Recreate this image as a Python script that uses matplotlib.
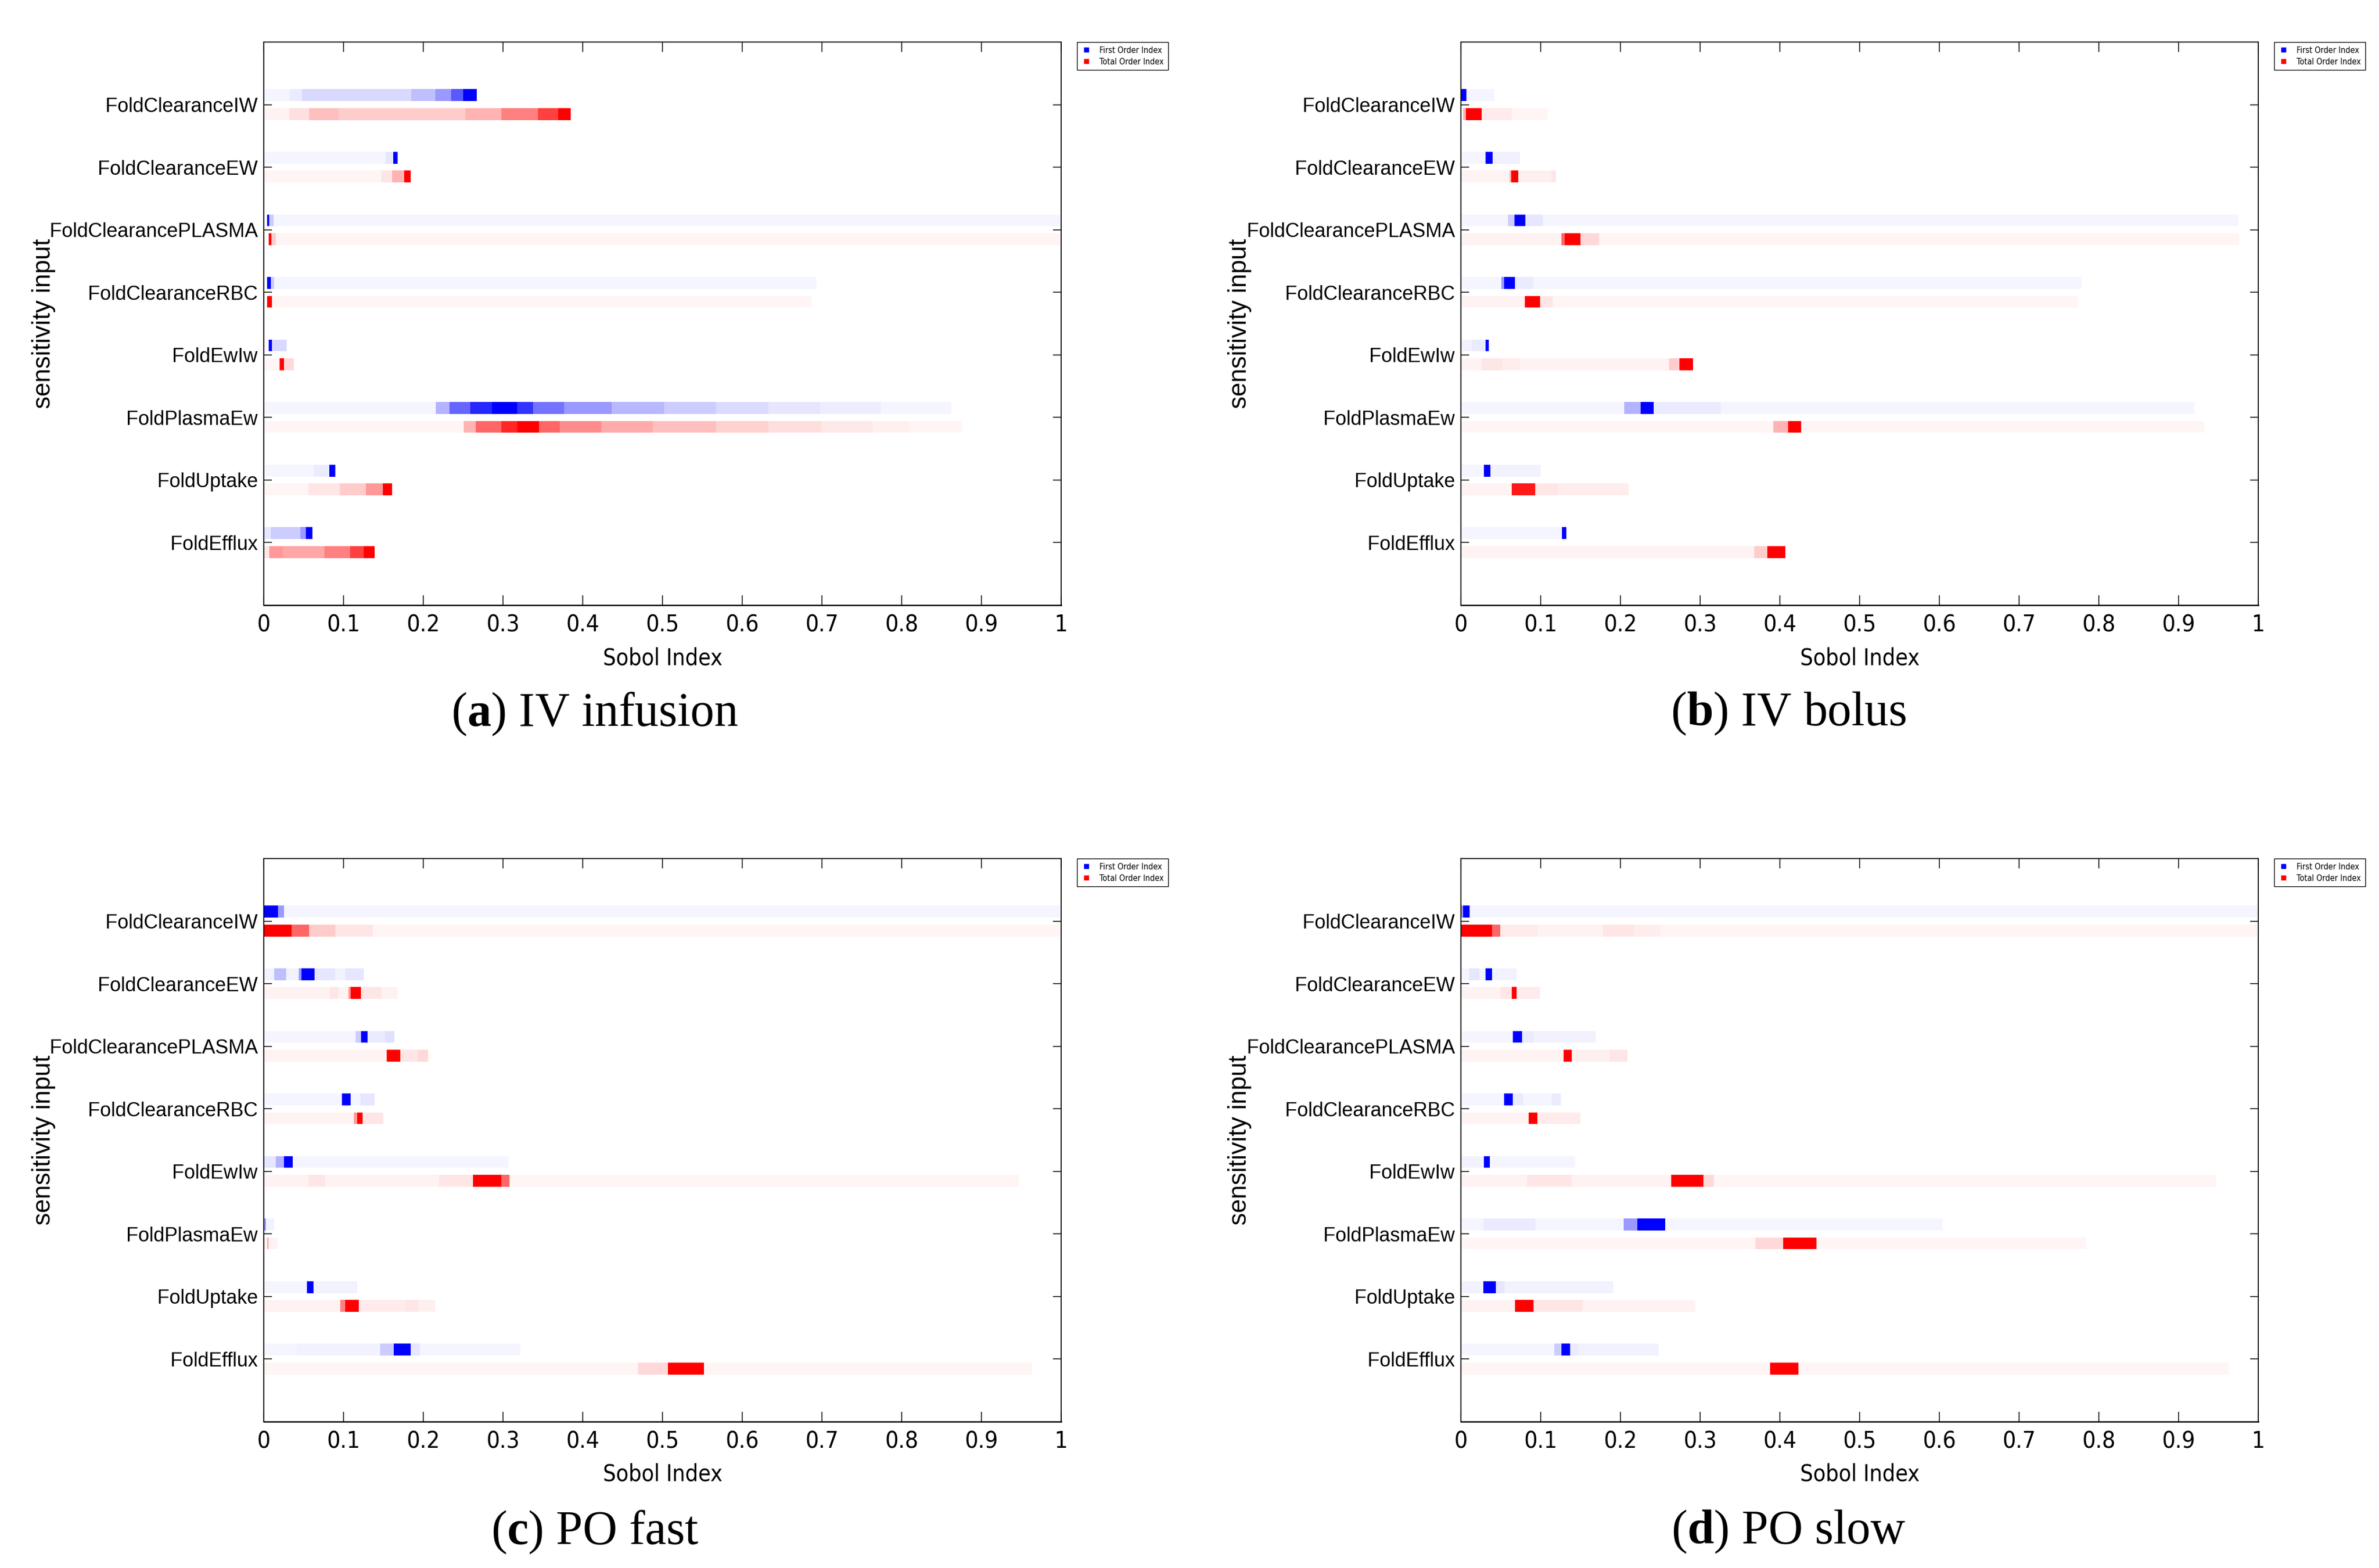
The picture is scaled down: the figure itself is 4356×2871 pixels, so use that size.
import os
import matplotlib
matplotlib.use("Agg")
import matplotlib.pyplot as plt
import matplotlib.font_manager as fm
from matplotlib.lines import Line2D

# ---------------- data ----------------
PARAMS = ["FoldClearanceIW", "FoldClearanceEW", "FoldClearancePLASMA",
          "FoldClearanceRBC", "FoldEwIw", "FoldPlasmaEw", "FoldUptake", "FoldEfflux"]
PANEL_TITLES = ["a", "b", "c", "d"]
PANEL_NAMES = ["IV infusion", "IV bolus", "PO fast", "PO slow"]
XTICKS = [0, 0.1, 0.2, 0.3, 0.4, 0.5, 0.6, 0.7, 0.8, 0.9, 1]
XTICK_LABELS = ["0", "0.1", "0.2", "0.3", "0.4", "0.5", "0.6", "0.7", "0.8", "0.9", "1"]

# each bar: bin edges of the Sobol index distribution and relative density (0..1) per bin
A_FIRST_EDGES = [
    [0, 0.032, 0.048, 0.185, 0.215, 0.235, 0.250, 0.267],
    [0, 0.153, 0.162, 0.168],
    [0.004, 0.007, 0.012, 1.0],
    [0.004, 0.009, 0.013, 0.693],
    [0.006, 0.010, 0.029],
    [0, 0.216, 0.233, 0.259, 0.286, 0.318, 0.338, 0.377, 0.436, 0.502, 0.567, 0.633, 0.698, 0.774, 0.862],
    [0, 0.063, 0.082, 0.090],
    [0, 0.009, 0.046, 0.053, 0.061],
]
A_FIRST_DENS = [
    [0.04, 0.08, 0.15, 0.25, 0.4, 0.65, 1.0],
    [0.04, 0.1, 1.0],
    [1.0, 0.2, 0.04],
    [1.0, 0.2, 0.04],
    [1.0, 0.15],
    [0.04, 0.3, 0.6, 0.85, 1.0, 0.8, 0.55, 0.4, 0.28, 0.2, 0.14, 0.1, 0.07, 0.04],
    [0.04, 0.08, 1.0],
    [0.1, 0.2, 0.4, 1.0],
]
A_TOTAL_EDGES = [
    [0, 0.032, 0.057, 0.094, 0.253, 0.298, 0.344, 0.369, 0.385],
    [0, 0.147, 0.161, 0.176, 0.184],
    [0.006, 0.0095, 0.015, 1.0],
    [0.004, 0.010, 0.687],
    [0, 0.020, 0.025, 0.038],
    [0, 0.251, 0.266, 0.298, 0.318, 0.345, 0.371, 0.423, 0.488, 0.567, 0.633, 0.699, 0.764, 0.81, 0.876],
    [0, 0.056, 0.095, 0.128, 0.149, 0.161],
    [0, 0.007, 0.024, 0.076, 0.108, 0.125, 0.139],
]
A_TOTAL_DENS = [
    [0.05, 0.12, 0.25, 0.2, 0.3, 0.5, 0.75, 1.0],
    [0.04, 0.1, 0.3, 1.0],
    [1.0, 0.2, 0.04],
    [1.0, 0.04],
    [0.04, 1.0, 0.15],
    [0.04, 0.3, 0.6, 0.85, 1.0, 0.6, 0.45, 0.33, 0.25, 0.18, 0.13, 0.09, 0.06, 0.04],
    [0.04, 0.1, 0.2, 0.4, 1.0],
    [0.1, 0.4, 0.35, 0.5, 0.75, 1.0],
]

B_FIRST_EDGES = [
    [0.001, 0.007, 0.042],
    [0, 0.031, 0.040, 0.074],
    [0, 0.059, 0.067, 0.081, 0.103, 0.975],
    [0, 0.051, 0.054, 0.068, 0.091, 0.778],
    [0, 0.014, 0.031, 0.035],
    [0, 0.205, 0.225, 0.242, 0.326, 0.920],
    [0, 0.029, 0.037, 0.100],
    [0, 0.127, 0.132],
]
B_FIRST_DENS = [
    [1.0, 0.04],
    [0.04, 1.0, 0.06],
    [0.04, 0.2, 1.0, 0.1, 0.04],
    [0.04, 0.4, 1.0, 0.08, 0.04],
    [0.05, 0.08, 1.0],
    [0.04, 0.3, 1.0, 0.08, 0.04],
    [0.04, 1.0, 0.05],
    [0.04, 1.0],
]
B_TOTAL_EDGES = [
    [0.003, 0.0065, 0.026, 0.064, 0.109],
    [0, 0.061, 0.063, 0.072, 0.114, 0.119],
    [0, 0.126, 0.130, 0.150, 0.173, 0.976],
    [0, 0.080, 0.099, 0.115, 0.773],
    [0, 0.026, 0.052, 0.074, 0.261, 0.274, 0.291],
    [0, 0.392, 0.410, 0.427, 0.932],
    [0, 0.064, 0.093, 0.122, 0.210],
    [0, 0.368, 0.384, 0.407],
]
B_TOTAL_DENS = [
    [0.3, 1.0, 0.08, 0.04],
    [0.05, 0.3, 1.0, 0.06, 0.1],
    [0.05, 0.6, 1.0, 0.15, 0.04],
    [0.05, 1.0, 0.1, 0.04],
    [0.05, 0.1, 0.07, 0.05, 0.2, 1.0],
    [0.04, 0.3, 1.0, 0.04],
    [0.05, 0.9, 0.1, 0.07],
    [0.05, 0.2, 1.0],
]

C_FIRST_EDGES = [
    [0, 0.018, 0.025, 1.0],
    [0, 0.013, 0.028, 0.044, 0.047, 0.064, 0.090, 0.102, 0.125],
    [0, 0.115, 0.122, 0.130, 0.152, 0.164],
    [0, 0.098, 0.109, 0.121, 0.139],
    [0, 0.015, 0.025, 0.036, 0.307],
    [0, 0.003, 0.013],
    [0, 0.054, 0.062, 0.117],
    [0, 0.041, 0.146, 0.163, 0.184, 0.196, 0.322],
]
C_FIRST_DENS = [
    [1.0, 0.4, 0.04],
    [0.05, 0.25, 0.05, 0.4, 1.0, 0.1, 0.05, 0.1],
    [0.04, 0.2, 1.0, 0.08, 0.12],
    [0.04, 1.0, 0.04, 0.1],
    [0.1, 0.3, 1.0, 0.04],
    [0.4, 0.05],
    [0.04, 1.0, 0.05],
    [0.04, 0.05, 0.2, 1.0, 0.1, 0.04],
]
C_TOTAL_EDGES = [
    [0, 0.035, 0.057, 0.090, 0.137, 1.0],
    [0, 0.083, 0.093, 0.106, 0.109, 0.122, 0.148, 0.168],
    [0, 0.154, 0.171, 0.193, 0.206],
    [0, 0.113, 0.117, 0.124, 0.150],
    [0, 0.056, 0.077, 0.220, 0.262, 0.298, 0.308, 0.947],
    [0, 0.004, 0.0065, 0.017],
    [0, 0.096, 0.102, 0.119, 0.178, 0.194, 0.215],
    [0, 0.469, 0.507, 0.552, 0.964],
]
C_TOTAL_DENS = [
    [1.0, 0.6, 0.2, 0.1, 0.04],
    [0.05, 0.1, 0.05, 0.4, 1.0, 0.1, 0.05],
    [0.05, 1.0, 0.1, 0.15],
    [0.05, 0.4, 1.0, 0.1],
    [0.05, 0.1, 0.05, 0.1, 1.0, 0.6, 0.04],
    [0.05, 0.3, 0.05],
    [0.05, 0.5, 1.0, 0.08, 0.1, 0.06],
    [0.04, 0.15, 1.0, 0.04],
]

D_FIRST_EDGES = [
    [0, 0.003, 0.011, 1.0],
    [0, 0.010, 0.023, 0.031, 0.039, 0.070],
    [0, 0.065, 0.077, 0.091, 0.169],
    [0, 0.054, 0.065, 0.078, 0.114, 0.125],
    [0, 0.029, 0.036, 0.143],
    [0, 0.028, 0.093, 0.204, 0.221, 0.256, 0.604],
    [0, 0.028, 0.044, 0.055, 0.191],
    [0, 0.117, 0.126, 0.137, 0.148, 0.248],
]
D_FIRST_DENS = [
    [0.4, 1.0, 0.04],
    [0.04, 0.1, 0.04, 1.0, 0.05],
    [0.04, 1.0, 0.08, 0.05],
    [0.04, 1.0, 0.08, 0.04, 0.08],
    [0.05, 1.0, 0.04],
    [0.04, 0.08, 0.04, 0.4, 1.0, 0.04],
    [0.05, 1.0, 0.1, 0.05],
    [0.04, 0.2, 1.0, 0.08, 0.05],
]
D_TOTAL_EDGES = [
    [0, 0.039, 0.049, 0.096, 0.178, 0.218, 0.251, 1.0],
    [0, 0.049, 0.064, 0.070, 0.099],
    [0, 0.129, 0.139, 0.186, 0.209],
    [0, 0.085, 0.096, 0.150],
    [0, 0.083, 0.139, 0.264, 0.304, 0.317, 0.947],
    [0, 0.369, 0.404, 0.446, 0.784],
    [0, 0.068, 0.091, 0.153, 0.294],
    [0, 0.388, 0.423, 0.963],
]
D_TOTAL_DENS = [
    [1.0, 0.6, 0.08, 0.05, 0.1, 0.07, 0.04],
    [0.05, 0.1, 1.0, 0.08],
    [0.05, 1.0, 0.06, 0.1],
    [0.05, 1.0, 0.08],
    [0.05, 0.1, 0.05, 1.0, 0.15, 0.04],
    [0.04, 0.15, 1.0, 0.04],
    [0.05, 1.0, 0.1, 0.05],
    [0.04, 1.0, 0.04],
]

PANELS = [
    (A_FIRST_EDGES, A_FIRST_DENS, A_TOTAL_EDGES, A_TOTAL_DENS),
    (B_FIRST_EDGES, B_FIRST_DENS, B_TOTAL_EDGES, B_TOTAL_DENS),
    (C_FIRST_EDGES, C_FIRST_DENS, C_TOTAL_EDGES, C_TOTAL_DENS),
    (D_FIRST_EDGES, D_FIRST_DENS, D_TOTAL_EDGES, D_TOTAL_DENS),
]

# ---------------- style ----------------
plt.rcParams["mathtext.fontset"] = "custom"
plt.rcParams["mathtext.rm"] = "Liberation Serif"
plt.rcParams["mathtext.bf"] = "Liberation Serif:bold"

# condensed sans for ticks / x label / legend (like the narrow MATLAB font)
_cond = None
for f in fm.findSystemFonts():
    b = os.path.basename(f)
    if b in ("LiberationSansNarrow-Regular.ttf", "DejaVuSansCondensed.ttf"):
        _cond = f
        if b.startswith("Liberation"):
            break


def narrow(size):
    if _cond:
        return fm.FontProperties(fname=_cond, size=size)
    return fm.FontProperties(family="DejaVu Sans", stretch="condensed", size=size)


SANS = ["Liberation Sans", "DejaVu Sans"]
BLUE = (0.0, 0.0, 1.0)
RED = (1.0, 0.0, 0.0)

W, H = 4356, 2871
fig = plt.figure(figsize=(W / 100, H / 100), dpi=100)

AX_PX = [(483, 77), (2675, 77), (483, 1572), (2675, 1572)]
AX_W, AX_H = 1460, 1031
YLAB_X = [80, 2270, 80, 2270]
CAP_PX = [(1089, 1307), (3275, 1307), (1089, 2805), (3275, 2805)]
BAR_H = 0.19
OFF = 0.15


def tint(rgb, a):
    return tuple(1 - a * (1 - c) for c in rgb)


def draw_bar(ax, y, edges, dens, rgb):
    lefts = edges[:-1]
    widths = [edges[i + 1] - edges[i] for i in range(len(edges) - 1)]
    cols = [tint(rgb, d) for d in dens]
    ax.barh([y] * len(lefts), widths, left=lefts, height=BAR_H,
            color=cols, linewidth=0, antialiased=False)


for k, (fe, fd, te, td) in enumerate(PANELS):
    x0, y0 = AX_PX[k]
    ax = fig.add_axes([x0 / W, 1 - (y0 + AX_H) / H, AX_W / W, AX_H / H])
    for i in range(len(PARAMS)):
        yc = i + 1
        draw_bar(ax, yc - OFF, fe[i], fd[i], BLUE)
        draw_bar(ax, yc + OFF, te[i], td[i], RED)
    ax.set_xlim(0, 1)
    ax.set_ylim(9.0, 0.0)
    ax.set_yticks(range(1, len(PARAMS) + 1))
    ax.set_yticklabels(PARAMS, fontsize=26, family=SANS)
    ax.set_xticks(XTICKS)
    ax.set_xticklabels(XTICK_LABELS, fontproperties=narrow(31))
    ax.tick_params(axis="x", direction="in", top=True, bottom=True,
                   length=13, width=1.1, pad=11)
    ax.tick_params(axis="y", direction="in", left=True, right=True,
                   length=11, width=1.1, pad=8)
    for s in ax.spines.values():
        s.set_linewidth(1.3)
        s.set_color("black")
    ax.spines["bottom"].set_linewidth(1.8)
    ax.set_xlabel("Sobol Index", fontproperties=narrow(30), va="center")
    ax.xaxis.set_label_coords(0.5, -(1205 - 1108) / AX_H)
    ax.set_ylabel("sensitivity input", fontsize=33, family=SANS, va="center")
    ax.yaxis.set_label_coords((YLAB_X[k] - x0) / AX_W, 0.5)
    handles = [Line2D([], [], linestyle="none", marker="s", markersize=6,
                      markerfacecolor=BLUE, markeredgecolor=BLUE),
               Line2D([], [], linestyle="none", marker="s", markersize=6,
                      markerfacecolor=RED, markeredgecolor=RED)]
    leg = ax.legend(handles, ["First Order Index", "Total Order Index"],
                    loc="upper left", bbox_to_anchor=(1.02, 1.0),
                    borderaxespad=0, prop=narrow(11),
                    frameon=True, fancybox=False, framealpha=1,
                    edgecolor="black", handlelength=1.2, handletextpad=1.0,
                    borderpad=0.5, labelspacing=0.4)
    leg.get_frame().set_linewidth(1.0)
    cx, cy = CAP_PX[k]
    fig.text(cx / W, 1 - cy / H,
             r"($\mathbf{%s}$) %s" % (PANEL_TITLES[k], PANEL_NAMES[k]),
             fontsize=63, family="Liberation Serif", ha="center", va="center")

fig.savefig("out.png", dpi=100)
